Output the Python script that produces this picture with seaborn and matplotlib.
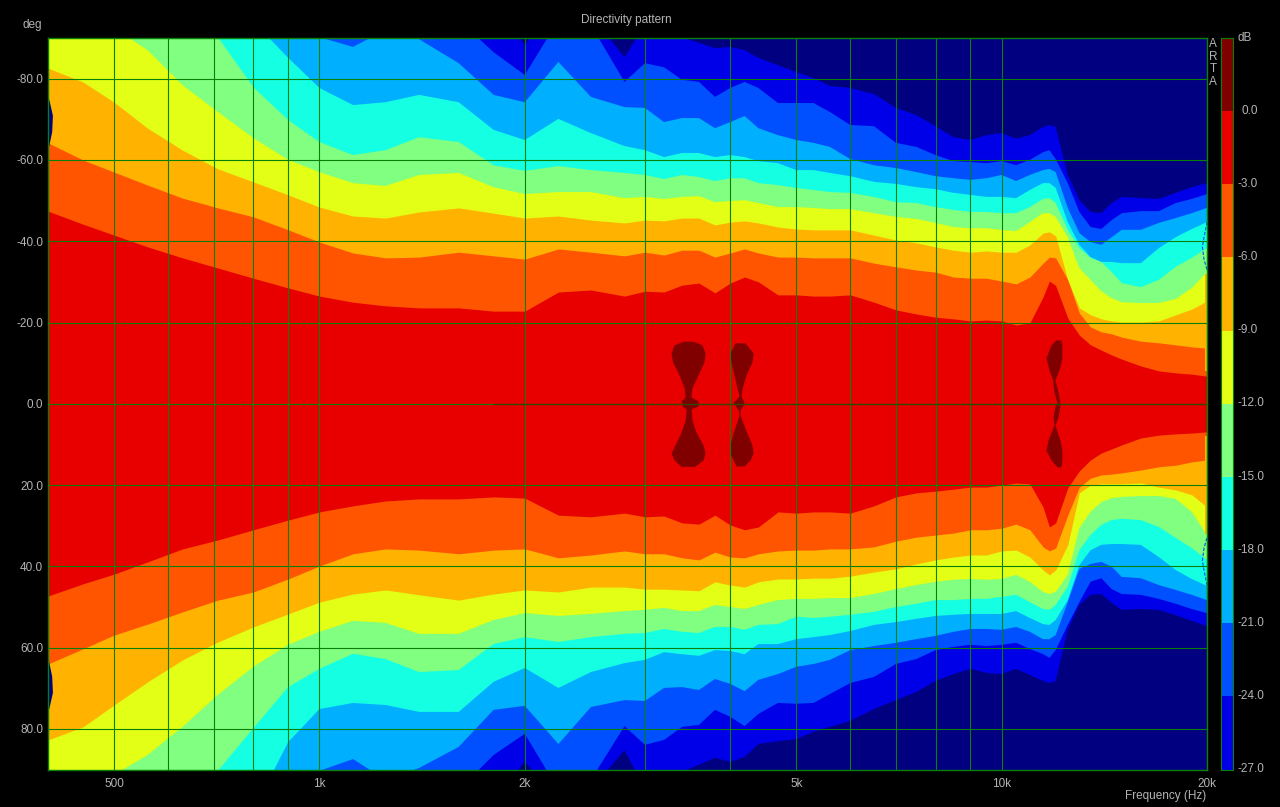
import numpy as np
import matplotlib
matplotlib.use("Agg")
import matplotlib.pyplot as plt
from matplotlib.colors import ListedColormap
import seaborn as sns

freq_hz = [400, 450, 500, 560, 630, 710, 800, 900, 1000, 1120, 1250, 1400, 1600, 1800,
           2000, 2240, 2500, 2800, 3000, 3200, 3400, 3600, 3800, 4000, 4200, 4400, 4700, 5000,
           5300, 5600, 6000, 6500, 7000, 7500, 8000, 8500, 9000, 9500, 10000, 10500, 11000,
           11500, 11750, 12000, 12500, 13000, 13500, 14000, 14500, 15000, 16000, 17000, 18000, 19000, 20000]

# angle (deg) where the response drops to each level, negative side
top_3 = [-47.4, -44.2, -41.5, -38.6, -35.9, -33.4, -30.9, -28.5, -26.5, -25.0, -24.1, -23.6, -23.6, -22.8,
         -22.8, -27.5, -28.0, -26.5, -27.7, -27.5, -29.2, -29.7, -27.3, -29.7, -31.2, -30.0, -26.8, -26.8,
         -26.5, -26.5, -26.8, -25.0, -23.1, -22.1, -21.3, -20.9, -20.4, -20.6, -20.4, -19.4, -19.9,
         -26.3, -30.2, -29.1, -21.1, -16.9, -14.5, -13.2, -12.0, -11.0, -9.3, -8.1, -7.6, -7.3, -6.8]
top_6 = [-64.2, -60.0, -57.0, -53.8, -50.6, -48.2, -46.0, -42.8, -39.8, -37.1, -35.9, -36.1, -37.3, -36.4,
         -35.6, -38.1, -37.3, -36.4, -37.3, -36.6, -37.8, -37.8, -36.1, -37.1, -38.1, -37.1, -36.1, -36.1,
         -35.9, -35.9, -35.9, -34.6, -33.7, -32.9, -32.4, -31.2, -30.9, -30.9, -30.2, -29.5, -31.2,
         -34.6, -36.1, -35.9, -30.5, -22.3, -18.9, -17.7, -17.2, -16.4, -15.4, -15.0, -14.5, -14.0, -13.7]
top_9 = [-82.6, -79.2, -74.2, -67.8, -62.4, -57.8, -54.6, -51.4, -48.4, -46.2, -45.7, -47.2, -48.2, -46.9,
         -45.7, -46.2, -45.2, -44.5, -45.2, -45.0, -45.7, -45.7, -44.0, -44.7, -45.0, -44.5, -43.5, -43.0,
         -42.8, -42.8, -42.8, -41.5, -40.3, -39.6, -38.6, -37.8, -37.3, -37.6, -37.3, -37.3, -39.1,
         -42.0, -42.3, -41.3, -30.5, -23.6, -21.9, -20.9, -20.4, -20.1, -20.1, -20.4, -21.9, -23.3, -25.3]
top_12 = [-100, -100, -92.4, -87.0, -78.4, -71.8, -65.4, -60.0, -57.0, -54.3, -53.6, -56.3, -56.8, -53.3,
          -51.6, -52.1, -52.1, -50.6, -50.9, -50.4, -50.9, -51.1, -49.6, -49.9, -50.1, -49.4, -48.4, -48.4,
          -48.2, -47.9, -47.9, -46.9, -46.0, -45.5, -44.5, -43.5, -43.2, -43.2, -42.8, -42.5, -44.7,
          -46.9, -46.9, -46.0, -41.0, -33.4, -30.5, -27.7, -26.0, -25.0, -24.8, -24.8, -25.8, -28.5, -32.4]
top_15 = [-100, -100, -100, -100, -98, -90.2, -77.9, -69.8, -64.4, -61.2, -62.4, -65.6, -64.4, -58.7,
          -57.3, -58.5, -57.5, -56.8, -56.3, -55.3, -56.3, -55.8, -54.8, -55.5, -55.5, -54.3, -53.8, -53.1,
          -52.6, -52.1, -51.9, -50.9, -49.6, -49.4, -48.4, -47.7, -47.2, -47.2, -46.9, -46.9, -48.4,
          -50.4, -50.6, -49.4, -42.8, -38.3, -35.9, -34.9, -32.4, -29.7, -28.7, -30.5, -33.7, -35.9, -38.3]
top_18 = [-100, -100, -100, -100, -100, -100, -94, -85.1, -77.7, -73.5, -74.2, -76.0, -74.2, -67.4,
          -64.9, -70.1, -66.6, -63.4, -62.4, -60.7, -61.7, -61.7, -60.7, -61.2, -60.7, -59.7, -59.2, -57.5,
          -57.5, -56.8, -56.0, -54.6, -54.1, -53.3, -52.8, -51.9, -51.4, -50.9, -50.9, -50.6, -52.6,
          -54.3, -54.3, -53.1, -44.7, -39.1, -36.1, -34.9, -34.9, -34.6, -34.6, -38.3, -41.0, -43.0, -44.7]
top_21 = [-100, -100, -100, -100, -100, -100, -100, -94.4, -90.2, -87.8, -92.0, -89.7, -83.8, -76.0,
          -74.2, -84.1, -75.5, -73.0, -72.8, -69.3, -70.3, -70.3, -67.8, -69.3, -70.8, -67.8, -66.1, -64.9,
          -64.2, -63.2, -60.2, -58.7, -58.0, -57.0, -56.0, -55.5, -55.1, -55.5, -56.3, -54.8, -56.3,
          -57.5, -57.8, -57.0, -48.2, -42.0, -39.8, -39.1, -41.0, -42.8, -42.8, -44.5, -45.7, -46.9, -48.2]
top_24 = [-100, -100, -100, -100, -100, -100, -100, -100, -100, -100, -100, -100, -94.4, -86.5,
          -80.9, -94.4, -93.2, -79.2, -83.8, -82.8, -79.7, -79.2, -75.5, -77.7, -79.2, -77.7, -74.0, -74.0,
          -74.0, -71.8, -68.6, -68.3, -64.2, -63.2, -61.2, -59.7, -59.5, -59.2, -59.7, -58.7, -60.0,
          -61.9, -62.4, -60.2, -54.3, -47.2, -43.5, -43.0, -45.2, -46.9, -47.4, -47.4, -49.4, -50.4, -51.6]
top_27 = [-100, -100, -100, -100, -100, -100, -100, -100, -100, -100, -100, -100, -100, -99,
          -88.3, -99, -95.6, -85.3, -93.2, -94.4, -90.2, -88.8, -87.5, -87.8, -87.0, -85.1, -83.3, -81.6,
          -80.1, -78.2, -77.7, -76.2, -72.8, -71.0, -68.3, -65.6, -64.9, -66.1, -66.6, -65.2, -66.1,
          -68.1, -68.6, -68.1, -56.3, -50.1, -47.2, -46.9, -49.4, -50.9, -50.6, -50.4, -51.9, -53.3, -54.3]

# same levels, positive side
bot_3 = [47.3, 44.3, 41.9, 38.9, 35.7, 33.5, 31.0, 28.6, 26.6, 25.1, 23.9, 23.4, 23.4, 22.9,
         23.2, 27.4, 27.8, 26.9, 27.8, 27.6, 29.3, 29.6, 27.4, 29.8, 31.0, 30.3, 26.6, 26.9,
         26.6, 26.6, 26.9, 25.1, 22.9, 21.9, 21.5, 21.0, 20.5, 20.5, 20.0, 19.5, 19.7,
         25.4, 30.3, 29.3, 20.7, 16.5, 13.8, 12.1, 11.1, 10.1, 8.4, 7.7, 7.4, 7.2, 6.9]
bot_6 = [64.0, 60.3, 56.9, 54.2, 51.2, 48.3, 46.3, 43.1, 39.9, 36.9, 35.7, 36.0, 36.9, 36.0,
         35.7, 37.9, 37.2, 36.2, 36.9, 36.9, 37.9, 38.4, 36.5, 37.7, 37.9, 36.9, 36.2, 36.0,
         36.0, 35.7, 35.7, 35.2, 33.8, 32.8, 32.3, 31.8, 31.0, 31.0, 30.6, 29.6, 31.0,
         35.2, 36.2, 35.5, 27.4, 20.5, 18.3, 17.5, 17.3, 17.0, 16.3, 15.5, 15.1, 14.3, 13.8]
bot_9 = [82.7, 79.5, 74.1, 68.4, 63.0, 58.6, 54.9, 51.7, 48.8, 46.8, 45.8, 47.0, 48.3, 46.8,
         45.8, 46.3, 45.1, 45.1, 45.6, 45.6, 45.8, 46.0, 43.8, 44.6, 45.1, 43.8, 43.1, 43.1,
         42.9, 42.9, 42.4, 41.4, 40.6, 39.4, 38.4, 37.7, 37.2, 37.2, 36.2, 36.0, 37.7,
         40.9, 42.1, 40.9, 34.7, 21.9, 20.0, 19.7, 19.7, 19.7, 19.5, 20.5, 21.2, 22.4, 25.4]
bot_12 = [100, 100, 91.3, 86.4, 79.5, 71.6, 64.7, 59.3, 56.1, 53.4, 53.9, 56.6, 56.6, 53.2,
          51.5, 52.2, 51.7, 51.0, 50.7, 50.2, 51.0, 51.0, 49.5, 50.0, 50.5, 49.5, 48.3, 48.0,
          48.0, 47.8, 47.8, 46.8, 45.6, 44.6, 43.8, 43.3, 43.1, 43.3, 43.1, 42.1, 43.8,
          46.3, 46.8, 46.3, 42.1, 30.6, 26.6, 24.2, 23.2, 22.9, 22.7, 22.7, 23.4, 26.6, 32.3]
bot_15 = [100, 100, 100, 100, 100, 90.3, 79.8, 69.7, 65.2, 61.5, 62.8, 66.0, 65.5, 59.1,
          57.4, 58.6, 57.4, 56.6, 56.4, 55.4, 56.1, 56.4, 54.9, 54.9, 55.6, 54.4, 54.2, 52.4,
          52.7, 52.4, 51.9, 51.2, 50.0, 49.2, 48.3, 48.3, 48.0, 48.0, 47.5, 47.0, 48.8,
          50.5, 50.7, 49.5, 45.1, 36.0, 32.3, 29.8, 28.6, 28.3, 28.6, 30.3, 33.0, 35.5, 38.4]
bot_18 = [100, 100, 100, 100, 100, 100, 100, 83.2, 75.1, 73.6, 74.1, 75.8, 75.8, 68.4,
          65.0, 69.9, 66.0, 63.8, 63.0, 61.1, 61.6, 62.0, 60.6, 60.8, 61.6, 59.1, 59.1, 57.9,
          57.4, 56.9, 55.9, 54.4, 53.7, 52.9, 52.2, 51.9, 51.7, 51.7, 51.7, 51.0, 52.7,
          54.2, 54.4, 53.2, 48.3, 39.7, 36.0, 34.7, 34.5, 34.5, 34.7, 37.7, 40.9, 43.1, 44.8]
bot_21 = [100, 100, 100, 100, 100, 100, 100, 95.0, 90.3, 87.4, 92.5, 89.6, 84.4, 75.3,
          74.3, 83.7, 74.6, 72.9, 73.1, 69.9, 69.7, 70.4, 67.7, 68.9, 70.7, 67.9, 66.5, 64.7,
          64.0, 63.0, 60.6, 59.6, 58.8, 57.9, 57.1, 56.1, 55.4, 55.4, 55.6, 54.9, 56.1,
          57.9, 57.9, 56.9, 48.8, 40.6, 39.4, 38.9, 40.1, 42.6, 42.9, 44.6, 45.8, 47.0, 48.3]
bot_24 = [100, 100, 100, 100, 100, 100, 100, 100, 100, 100, 100, 100, 95.0, 86.4,
          81.2, 95.0, 92.5, 79.3, 83.9, 82.7, 79.5, 79.0, 75.3, 77.0, 79.3, 76.3, 73.6, 73.8,
          73.6, 71.4, 68.7, 67.2, 64.0, 62.8, 60.6, 59.8, 59.3, 59.6, 59.3, 58.8, 60.3,
          61.6, 62.5, 60.6, 54.4, 48.8, 43.8, 42.9, 45.6, 46.8, 47.0, 48.0, 49.2, 50.5, 51.5]
bot_27 = [100, 100, 100, 100, 100, 100, 100, 100, 100, 100, 100, 100, 100, 97.5,
          88.1, 97.5, 95.0, 85.2, 95.0, 97.5, 90.6, 88.8, 87.1, 88.1, 86.9, 83.7, 83.0, 82.5,
          80.7, 79.5, 78.0, 75.1, 72.9, 70.9, 68.2, 66.5, 65.2, 66.2, 66.5, 65.2, 66.7,
          68.2, 68.7, 68.2, 55.6, 49.5, 47.0, 46.8, 49.0, 50.7, 50.5, 50.7, 52.0, 53.4, 54.7]

# regions above 0 dB
lobe_a_deg = [-15.4, -14.5, -12.5, -10.3, -7.1, -3.9, -1.7, -0.7, -0.2, 0.5, 1.3, 4.0, 7.0, 10.1, 12.1, 13.8, 15.4]
lobe_a_lo = [3412, 3309, 3276, 3293, 3366, 3424, 3436, 3388, 3400, 3400, 3447, 3436, 3388, 3320, 3276, 3309, 3388]
lobe_a_hi = [3528, 3637, 3675, 3662, 3589, 3516, 3505, 3589, 3589, 3589, 3505, 3516, 3565, 3650, 3675, 3650, 3550]
lobe_b_deg = [-15.0, -12.5, -10.3, -7.1, -3.9, -1.9, -0.4, 0.3, 1.5, 2.8, 7.2, 10.1, 12.1, 13.8, 15.3]
lobe_b_lo = [4066, 3997, 4010, 4052, 4094, 4121, 4039, 4066, 4109, 4121, 4039, 3997, 3997, 4039, 4080]
lobe_b_hi = [4205, 4322, 4305, 4220, 4165, 4150, 4192, 4178, 4135, 4135, 4233, 4305, 4322, 4277, 4192]
lobe_c_deg = [-15.7, -14.5, -11.3, -8.3, -5.9, -2.9, -0.4, 0.5, 3.2, 5.2, 8.9, 11.4, 13.8, 15.5]
lobe_c_lo = [12014, 11812, 11612, 11735, 11875, 11934, 12054, 11974, 11893, 11934, 11695, 11612, 11812, 12054]
lobe_c_hi = [12218, 12254, 12254, 12135, 11974, 12096, 12174, 12174, 12096, 11974, 12174, 12254, 12254, 12218]

# specks along the plot edges
edge_blue_deg = [-75, -71, -67, -63.5]
edge_blue_hz = [401, 406, 405, 401]
edge_arc_deg = [-44.7, -41, -38.6, -35.5, -32.9]
edge_arc_hz = [20000, 19800, 19690, 19800, 20000]

band_colors = ["#000080", "#0000E8", "#0050FF", "#00B0FF", "#15FFE2", "#80FF80",
               "#E2FF15", "#FFB300", "#FF5500", "#E80000", "#800000"]
bar_levels = [1.5, -1.5, -4.5, -7.5, -10.5, -13.5, -16.5, -19.5, -22.5, -25.5]
bar_labels = ["0.0", "-3.0", "-6.0", "-9.0", "-12.0", "-15.0", "-18.0", "-21.0", "-24.0", "-27.0"]
y_ticks = [-80, -60, -40, -20, 0, 20, 40, 60, 80]
y_labels = ["-80.0", "-60.0", "-40.0", "-20.0", "0.0", "20.0", "40.0", "60.0", "80.0"]
x_major = [500, 1000, 2000, 5000, 10000, 20000]
x_major_labels = ["500", "1k", "2k", "5k", "10k", "20k"]
x_minor = [600, 700, 800, 900, 3000, 4000, 6000, 7000, 8000, 9000]

GRID = "#0A7F0A"
TXT = "#B4B4B4"

sns.set_theme(style="dark", rc={"figure.facecolor": "black", "axes.facecolor": "#000080",
                                "savefig.facecolor": "black"})
plt.rcParams["font.family"] = ["Liberation Sans", "DejaVu Sans"]
palette = sns.color_palette(band_colors)

W, H = 1280, 807
fig = plt.figure(figsize=(W / 100, H / 100), dpi=100)
ax = fig.add_axes([48 / W, 1 - 769.6 / H, (1207 - 48) / W, (769.6 - 38) / H])

levels = [(top_27, bot_27), (top_24, bot_24), (top_21, bot_21), (top_18, bot_18), (top_15, bot_15),
          (top_12, bot_12), (top_9, bot_9), (top_6, bot_6), (top_3, bot_3)]
for i, (upper, lower) in enumerate(levels):
    ax.fill_between(freq_hz, upper, lower, color=palette[i + 1], lw=0, zorder=1 + i * 0.01)

for ang, lo, hi in [(lobe_a_deg, lobe_a_lo, lobe_a_hi), (lobe_b_deg, lobe_b_lo, lobe_b_hi),
                    (lobe_c_deg, lobe_c_lo, lobe_c_hi)]:
    ax.fill_betweenx(ang, lo, hi, color=palette[10], lw=0, zorder=2)

# thin artefacts at the measurement limits
for sign in (-1, 1):
    ax.fill_betweenx([sign * 30, sign * 64], 400, 402, color=palette[7], lw=0, zorder=2)
    ax.fill_betweenx([sign * 8, sign * 32], 19880, 20000, color=palette[7], lw=0, zorder=2)
    ax.fill_betweenx([sign * d for d in edge_blue_deg], 400, edge_blue_hz, color=palette[0], lw=0, zorder=2.1)
    ax.plot(edge_arc_hz, [-sign * d for d in edge_arc_deg], color=palette[2], lw=0.8, ls=(0, (3, 1.5)), zorder=2.1)

ax.set_xscale("log")
ax.set_xlim(400, 20000)
ax.set_ylim(90, -90)
ax.set_xticks(x_major)
ax.set_xticklabels(x_major_labels)
ax.set_xticks(x_minor, minor=True)
ax.set_xticklabels([""] * len(x_minor), minor=True)
ax.set_yticks(y_ticks)
ax.set_yticklabels(y_labels)
ax.tick_params(axis="both", which="both", colors=GRID, labelcolor=TXT, labelsize=8.5, width=0.7)
ax.tick_params(axis="x", which="major", length=2.5, pad=3.5)
ax.tick_params(axis="x", which="minor", length=2.5)
ax.tick_params(axis="y", length=2, pad=1.5)
ax.grid(True, which="both", color=GRID, lw=0.8, zorder=5)
ax.set_axisbelow(False)
ax.plot([1800, 20000], [0, 0], color="#2F4A00", lw=0.9, zorder=5.1)
for s in ax.spines.values():
    s.set_color(GRID)
    s.set_linewidth(1.0)

fig.text(626 / W, 1 - 20 / H, "Directivity pattern", color=TXT, fontsize=8.5, ha="center", va="center")
fig.text(42 / W, 1 - 25 / H, "deg", color=TXT, fontsize=8.5, ha="right", va="center")
fig.text(1206 / W, 1 - 796 / H, "Frequency (Hz)", color=TXT, fontsize=8.5, ha="right", va="center")
fig.text(1213 / W, 1 - 63 / H, "A\nR\nT\nA", color=TXT, fontsize=8.5, ha="center", va="center", linespacing=1.05)

# colour bar
cax = fig.add_axes([1221 / W, 1 - 769.6 / H, 12 / W, (769.6 - 38) / H])
bar = np.array(bar_levels).reshape(-1, 1)
sns.heatmap(bar, ax=cax, cmap=ListedColormap(band_colors[1:]), vmin=-27, vmax=3, cbar=False,
            xticklabels=False, yticklabels=False, linewidths=0)
for s in cax.spines.values():
    s.set_visible(True)
    s.set_color(GRID)
    s.set_linewidth(0.8)
for i, lab in enumerate(bar_labels):
    px = 1242 if not lab.startswith("-") else 1238
    fig.text(px / W, 1 - (110.5 + i * 73.2) / H, lab, color=TXT, fontsize=8.5, ha="left", va="center")
fig.text(1238 / W, 1 - 38 / H, "dB", color=TXT, fontsize=8.5, ha="left", va="center")

fig.savefig("out.png", dpi=100, facecolor="black")
